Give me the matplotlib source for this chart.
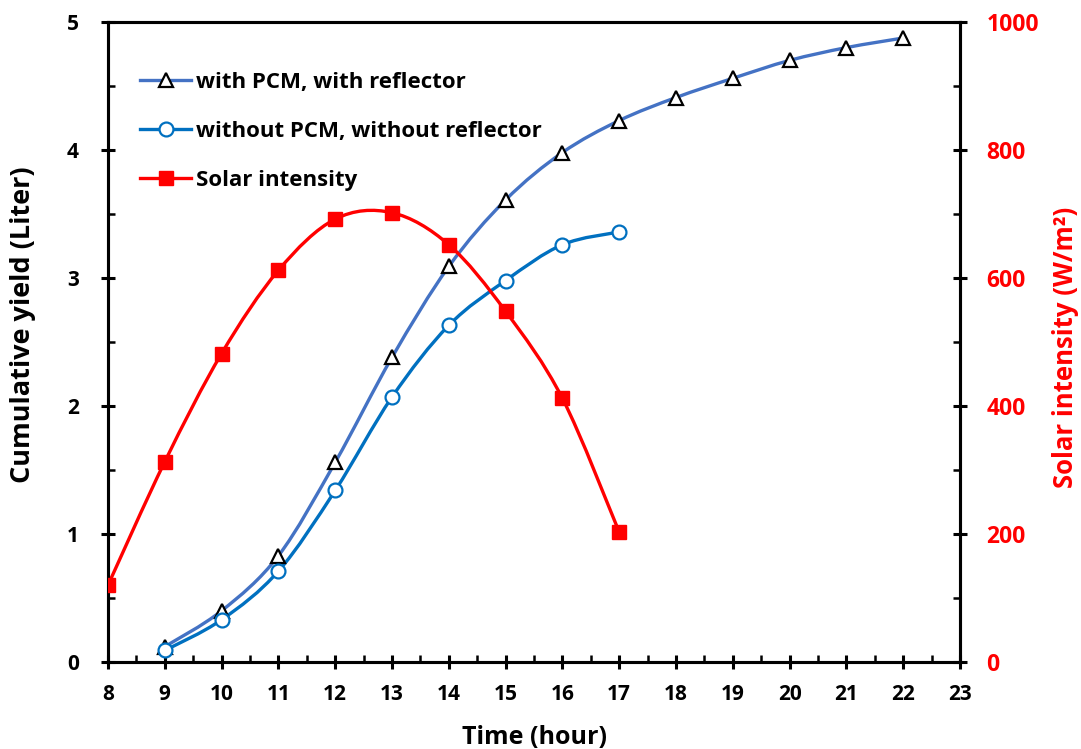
import matplotlib

matplotlib.use("Agg")
import matplotlib.pyplot as plt
import numpy as np
from matplotlib.path import Path
from matplotlib.patches import PathPatch
from matplotlib.lines import Line2D
from matplotlib.ticker import MultipleLocator

plt.rcParams["font.family"] = ["Open Sans", "DejaVu Sans"]
plt.rcParams["font.weight"] = "bold"

hours_pcm = [9, 10, 11, 12, 13, 14, 15, 16, 17, 18, 19, 20, 21, 22]
yield_pcm = [0.12, 0.40, 0.83, 1.56, 2.38, 3.09, 3.61, 3.98, 4.23, 4.41, 4.56, 4.70, 4.80, 4.875]

hours_nopcm = [9, 10, 11, 12, 13, 14, 15, 16, 17]
yield_nopcm = [0.09, 0.33, 0.71, 1.34, 2.07, 2.63, 2.98, 3.26, 3.36]

hours_solar = [8, 9, 10, 11, 12, 13, 14, 15, 16, 17]
solar = [120, 313, 482, 612, 692, 702, 652, 548, 412, 203]

BLUE1 = "#4472C4"
BLUE2 = "#0070C0"
RED = "#FF0000"


def smooth_path(x, y):
    # Excel-style smoothed line: Catmull-Rom converted to cubic Bezier
    pts = np.column_stack([x, y]).astype(float)
    verts = [pts[0]]
    codes = [Path.MOVETO]
    n = len(pts)
    for i in range(n - 1):
        p0 = pts[i - 1] if i > 0 else pts[i]
        p1 = pts[i]
        p2 = pts[i + 1]
        p3 = pts[i + 2] if i + 2 < n else pts[i + 1]
        c1 = p1 + (p2 - p0) / 6.0
        c2 = p2 - (p3 - p1) / 6.0
        verts += [c1, c2, p2]
        codes += [Path.CURVE4] * 3
    return Path(verts, codes)


fig = plt.figure(figsize=(10.81, 7.49), dpi=100)
ax = fig.add_axes([108 / 1081, 1 - 662 / 749, (960 - 108) / 1081, (662 - 22) / 749])
ax2 = ax.twinx()

lw = 2.4
ax.add_patch(PathPatch(smooth_path(hours_pcm, yield_pcm), fill=False, ec=BLUE1, lw=lw, zorder=2))
ax.add_patch(PathPatch(smooth_path(hours_nopcm, yield_nopcm), fill=False, ec=BLUE2, lw=lw, zorder=2))
ax.plot(hours_pcm, yield_pcm, ls="none", marker="^", ms=10, mfc="white", mec="black", mew=1.6, zorder=3)
ax.plot(hours_nopcm, yield_nopcm, ls="none", marker="o", ms=10, mfc="white", mec=BLUE2, mew=1.6, zorder=3)

ax2.add_patch(PathPatch(smooth_path(hours_solar, solar), fill=False, ec=RED, lw=lw, zorder=2))
ax2.plot(hours_solar, solar, ls="none", marker="s", ms=10, mfc=RED, mec=RED, zorder=3)

ax.set_xlim(8, 23)
ax.set_ylim(0, 5)
ax2.set_ylim(0, 1000)

ax.xaxis.set_major_locator(MultipleLocator(1))
ax.xaxis.set_minor_locator(MultipleLocator(0.5))
ax.yaxis.set_major_locator(MultipleLocator(1))
ax.yaxis.set_minor_locator(MultipleLocator(0.5))
ax2.yaxis.set_major_locator(MultipleLocator(200))
ax2.yaxis.set_minor_locator(MultipleLocator(100))

for a in (ax, ax2):
    for s in a.spines.values():
        s.set_linewidth(2.2)
ax.tick_params(axis="both", which="major", direction="inout", length=10, width=2.2, labelsize=15, pad=11)
ax.tick_params(axis="both", which="minor", direction="in", length=5, width=1.8)
ax.tick_params(axis="y", pad=16)
ax2.tick_params(axis="y", which="major", direction="inout", length=10, width=2.2, labelsize=16.5,
                labelcolor=RED, pad=14)
ax2.tick_params(axis="y", which="minor", direction="in", length=5, width=1.8)

for lab in ax.get_xticklabels() + ax.get_yticklabels() + ax2.get_yticklabels():
    lab.set_fontweight("bold")

ax.set_xlabel("Time (hour)", fontsize=18, fontweight="bold", labelpad=14)
ax.set_ylabel("Cumulative yield (Liter)", fontsize=19.5, fontweight="bold")
ax2.set_ylabel("Solar intensity (W/m²)", fontsize=18.5, fontweight="bold", color=RED)
ax.yaxis.set_label_coords(-0.084, 0.527)
ax2.yaxis.set_label_coords(1.108, 0.492)

handles = [
    Line2D([], [], color=BLUE1, lw=lw, marker="^", ms=10, mfc="white", mec="black", mew=1.6),
    Line2D([], [], color=BLUE2, lw=lw, marker="o", ms=10, mfc="white", mec=BLUE2, mew=1.6),
    Line2D([], [], color=RED, lw=lw, marker="s", ms=10, mfc=RED, mec=RED),
]
labels = ["with PCM, with reflector", "without PCM, without reflector", "Solar intensity"]
fig.legend(handles, labels, loc="upper left", bbox_to_anchor=(120 / 1081, 1 - 52 / 749),
           frameon=False, handlelength=2.3, handletextpad=0.2, labelspacing=1.25,
           prop={"weight": "bold", "size": 16})

fig.savefig("out.png", dpi=100)
plt.close(fig)
